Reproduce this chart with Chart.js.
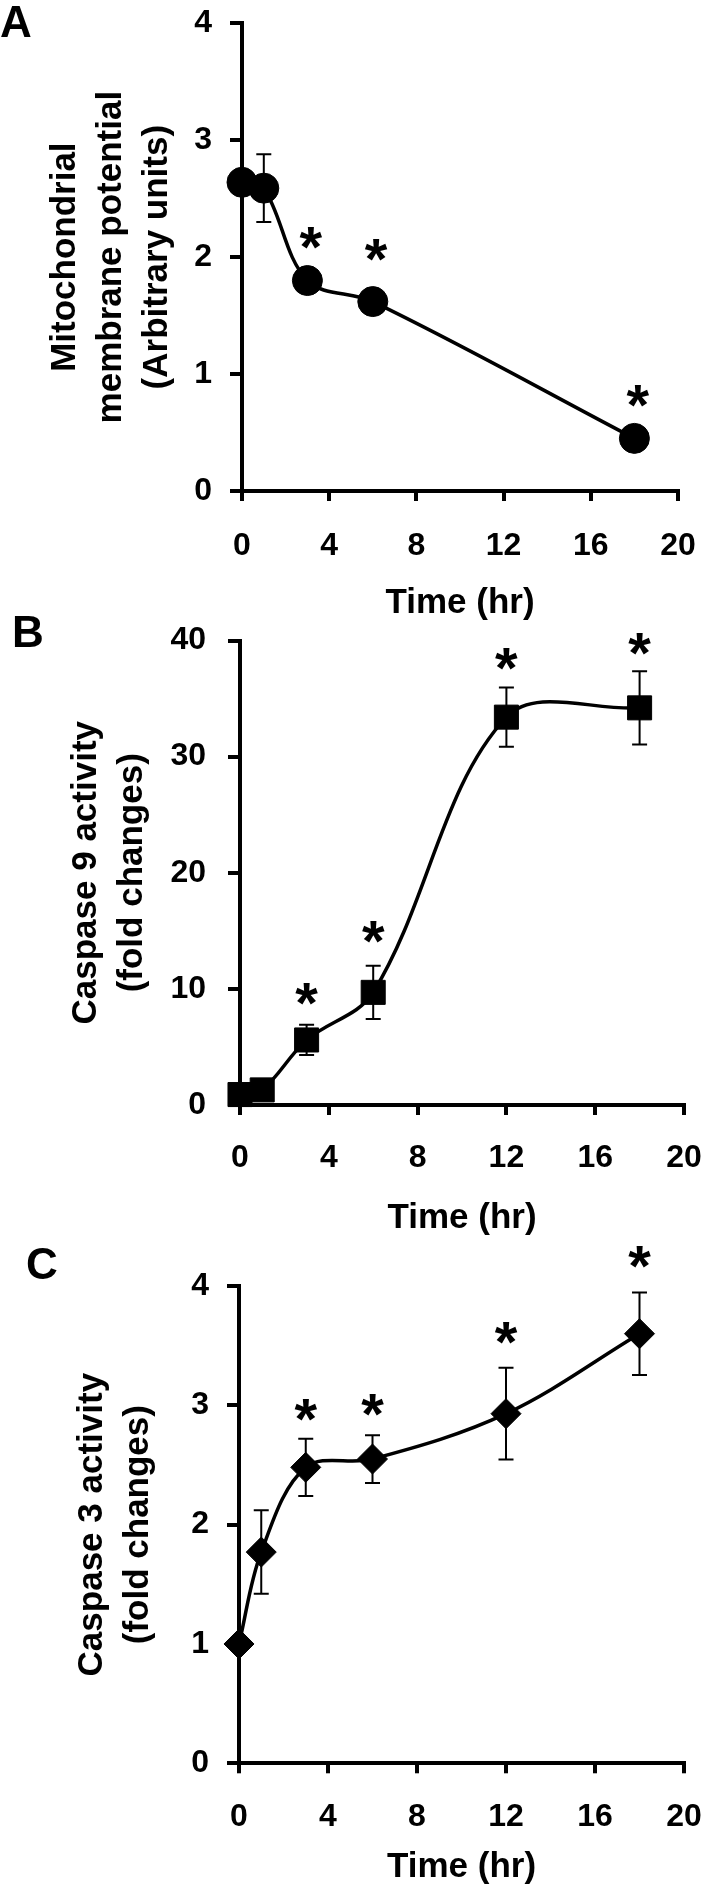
<!DOCTYPE html>
<html>
<head>
<meta charset="utf-8">
<script src="https://cdn.jsdelivr.net/npm/chart.js@4.4.1/dist/chart.umd.min.js"></script>
<style>
html, body { margin: 0; padding: 0; background: #fff; width: 702px; height: 1886px; overflow: hidden; }
canvas { position: absolute; left: 0; }
</style>
</head>
<body>
<canvas id="cA" width="702" height="624" style="top:0px"></canvas>
<canvas id="cB" width="702" height="639" style="top:600px"></canvas>
<canvas id="cC" width="702" height="663" style="top:1225px"></canvas>
<script>
// ---------- shared axis ticks ----------
const timeTicks = [0, 4, 8, 12, 16, 20];
const xTitle = 'Time (hr)';

// ---------- Panel A: mitochondrial membrane potential ----------
const timeA = [0, 1, 3, 6, 18];
const mmpA = [2.64, 2.59, 1.80, 1.62, 0.45];
const mmpErrA = [0, 0.29, 0, 0, 0];
const starTimeA = [3.15, 6.15, 18.15];
const starValA = [2.16, 2.06, 0.81];
const yTicksA = [0, 1, 2, 3, 4];
const yTitleA = ['Mitochondrial', 'membrane potential', '(Arbitrary units)'];

// ---------- Panel B: caspase 9 ----------
const timeB = [0, 1, 3, 6, 12, 18];
const casp9B = [0.9, 1.3, 5.6, 9.7, 33.4, 34.2];
const casp9ErrB = [0, 0, 1.3, 2.3, 2.55, 3.15];
const starTimeB = [3, 6, 12, 18];
const starValB = [9.6, 14.9, 38.4, 39.7];
const yTicksB = [0, 10, 20, 30, 40];
const yTitleB = ['Caspase 9 activity', '(fold changes)'];

// ---------- Panel C: caspase 3 ----------
const timeC = [0, 1, 3, 6, 12, 18];
const casp3C = [1.0, 1.77, 2.48, 2.55, 2.93, 3.60];
const casp3ErrC = [0, 0.35, 0.24, 0.2, 0.385, 0.345];
const starTimeC = [3, 6, 12, 18];
const starValC = [2.96, 3.0, 3.61, 4.24];
const yTicksC = [0, 1, 2, 3, 4];
const yTitleC = ['Caspase 3 activity', '(fold changes)'];

const FONT = 'Arial, "Liberation Sans", sans-serif';
Chart.defaults.font.family = FONT;
Chart.defaults.color = '#000';

function makePanel(id, o) {
  const pts = o.t.map((t, i) => ({ x: t, y: o.v[i] }));
  const overlay = {
    id: 'overlay_' + id,
    beforeDatasetsDraw(chart) {
      const { ctx, scales: { x, y } } = chart;
      ctx.save();
      ctx.strokeStyle = '#000';
      ctx.lineWidth = 2;
      o.t.forEach((t, i) => {
        const e = o.err[i];
        if (!e) return;
        const px = x.getPixelForValue(t);
        const yt = y.getPixelForValue(o.v[i] + e);
        const yb = y.getPixelForValue(o.v[i] - e);
        ctx.beginPath();
        ctx.moveTo(px, yt); ctx.lineTo(px, yb);
        ctx.moveTo(px - 7.5, yt); ctx.lineTo(px + 7.5, yt);
        ctx.moveTo(px - 7.5, yb); ctx.lineTo(px + 7.5, yb);
        ctx.stroke();
      });
      ctx.restore();
    },
    afterDatasetsDraw(chart) {
      const { ctx, scales: { x, y } } = chart;
      ctx.save();
      ctx.fillStyle = '#000';
      ctx.font = 'bold 58px ' + FONT;
      ctx.textAlign = 'center';
      ctx.textBaseline = 'alphabetic';
      const m = ctx.measureText('*');
      const off = (m.actualBoundingBoxAscent - m.actualBoundingBoxDescent) / 2;
      o.starT.forEach((t, i) => {
        ctx.fillText('*', x.getPixelForValue(t), y.getPixelForValue(o.starV[i]) + off);
      });
      ctx.font = 'bold 44px ' + FONT;
      ctx.textAlign = 'left';
      ctx.fillText(o.letter, o.letterX, o.letterY);
      ctx.restore();
    }
  };
  return new Chart(document.getElementById(id), {
    type: 'line',
    data: {
      datasets: [{
        data: pts,
        borderColor: '#000',
        borderWidth: 3.5,
        tension: o.tension,
        fill: false,
        clip: false,
        pointStyle: o.marker,
        pointRadius: o.radius,
        pointHoverRadius: o.radius,
        pointBackgroundColor: '#000',
        pointBorderColor: '#000',
        pointBorderWidth: 1
      }]
    },
    options: {
      responsive: false,
      animation: false,
      events: [],
      layout: { padding: { top: o.padTop, right: o.padRight, left: 0, bottom: 0 } },
      plugins: { legend: { display: false }, tooltip: { enabled: false } },
      scales: {
        x: {
          type: 'linear',
          min: 0, max: 20,
          afterBuildTicks: s => { s.ticks = timeTicks.map(v => ({ value: v })); },
          afterFit: s => { s.height = o.xHeight; s.paddingLeft = 0; s.paddingRight = 0; },
          grid: { drawOnChartArea: false, drawTicks: true, tickLength: 10, lineWidth: 4, color: '#000' },
          border: { display: true, color: '#000', width: 4 },
          ticks: { font: { size: 32, weight: 'bold', lineHeight: 1.2 }, padding: o.xTickPad, color: '#000', maxRotation: 0, autoSkip: false },
          title: { display: true, text: xTitle, font: { size: 35, weight: 'bold', lineHeight: 1.2 }, padding: { top: 0, bottom: 0 }, color: '#000' }
        },
        y: {
          type: 'linear',
          min: o.yTicks[0], max: o.yTicks[o.yTicks.length - 1],
          afterBuildTicks: s => { s.ticks = o.yTicks.map(v => ({ value: v })); },
          afterFit: s => { s.width = o.yWidth; s.paddingTop = 0; s.paddingBottom = 0; },
          grid: { drawOnChartArea: false, drawTicks: true, tickLength: 12, lineWidth: 4, color: '#000' },
          border: { display: true, color: '#000', width: 4 },
          ticks: { font: { size: 32, weight: 'bold', lineHeight: 1.2 }, padding: o.yTickPad, color: '#000' },
          title: { display: true, text: o.yTitle, font: { size: 35, weight: 'bold', lineHeight: 46 / 35 }, padding: { top: o.yTitlePad, bottom: 0 }, color: '#000' }
        }
      }
    },
    plugins: [overlay]
  });
}

makePanel('cA', {
  t: timeA, v: mmpA, err: mmpErrA, starT: starTimeA, starV: starValA,
  yTicks: yTicksA, yTitle: yTitleA, marker: 'circle', radius: 15, tension: 0.35,
  padTop: 23.3, padRight: 24, yWidth: 242, xHeight: 133, xTickPad: 26, yTickPad: 18, yTitlePad: 42,
  letter: 'A', letterX: 0, letterY: 37
});
makePanel('cB', {
  t: timeB, v: casp9B, err: casp9ErrB, starT: starTimeB, starV: starValB,
  yTicks: yTicksB, yTitle: yTitleB, marker: 'rect', radius: 17, tension: 0.35,
  padTop: 40.5, padRight: 18, yWidth: 240, xHeight: 134, xTickPad: 24, yTickPad: 22, yTitlePad: 63,
  letter: 'B', letterX: 12, letterY: 47
});
makePanel('cC', {
  t: timeC, v: casp3C, err: casp3ErrC, starT: starTimeC, starV: starValC,
  yTicks: yTicksC, yTitle: yTitleC, marker: 'rectRot', radius: 15, tension: 0.35,
  padTop: 61, padRight: 18, yWidth: 239, xHeight: 124.7, xTickPad: 25, yTickPad: 18, yTitlePad: 69,
  letter: 'C', letterX: 26, letterY: 54
});
</script>
</body>
</html>
